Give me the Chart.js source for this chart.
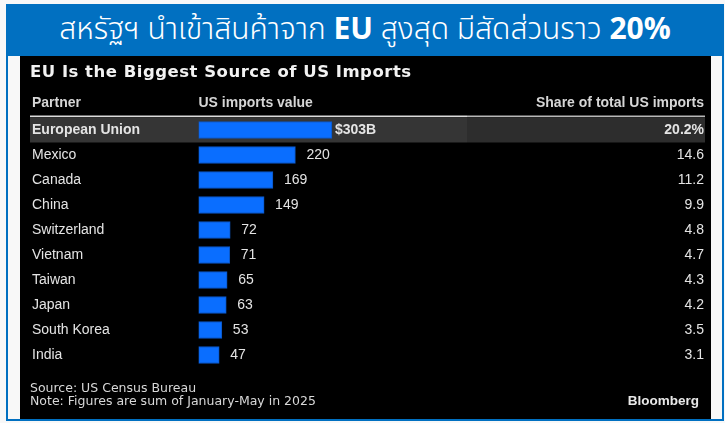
<!DOCTYPE html>
<html>
<head>
<meta charset="utf-8">
<script src="https://cdn.jsdelivr.net/npm/chart.js@4.4.1/dist/chart.umd.min.js"></script>
<style>
  html, body { margin: 0; padding: 0; background: #f8f8f8; }
  #page { position: relative; width: 725px; height: 423px; overflow: hidden; }
  #frame { position: absolute; left: 6px; top: 4px; width: 714px; height: 415px; border: 2px solid #0170c1; border-top: none; }
  #banner { position: absolute; left: 6px; top: 4px; width: 718px; height: 52px; background: #0170c1;
    color: #fff; font-family: "Noto Sans Thai", "Noto Sans", "DejaVu Sans", sans-serif; font-size: 30px; font-weight: 300;
    line-height: 52px; text-align: center; }
  #banner b { font-weight: bold; }
  #panel { position: absolute; left: 20px; top: 56px; width: 691px; height: 363px; background: #000; }
  #title { position: absolute; left: 10px; top: 6px; color: #f2f2f2; font-family: "DejaVu Sans", Verdana, sans-serif;
    font-weight: bold; font-size: 16.5px; letter-spacing: 0.5px; line-height: 20px; white-space: nowrap; }
  #chartBox { position: absolute; left: 0; top: 0; width: 691px; height: 363px; }
  #notes { position: absolute; left: 10px; top: 326px; color: #d8d8d8; font-family: "DejaVu Sans", Verdana, sans-serif;
    font-size: 12.5px; line-height: 12.5px; white-space: nowrap; }
  #brand { position: absolute; right: 12px; top: 337px; color: #e8e8e8; font-family: "Liberation Sans", Arial, sans-serif;
    font-weight: bold; font-size: 13.5px; line-height: 16px; }
</style>
</head>
<body>
<div id="page">
  <div id="frame"></div>
  <div id="banner">สหรัฐฯ นำเข้าสินค้าจาก <b>EU</b> สูงสุด มีสัดส่วนราว <b>20%</b></div>
  <div id="panel">
    <div id="chartBox"><canvas id="my-chart"></canvas></div>
    <div id="title">EU Is the Biggest Source of US Imports</div>
    <div id="notes">Source: US Census Bureau<br>Note: Figures are sum of January-May in 2025</div>
    <div id="brand">Bloomberg</div>
  </div>
</div>
<script>
// DATA
const partners = ['European Union', 'Mexico', 'Canada', 'China', 'Switzerland', 'Vietnam', 'Taiwan', 'Japan', 'South Korea', 'India'];
const importsValue = [303, 220, 169, 149, 72, 71, 65, 63, 53, 47];
const shareOfTotal = [20.2, 14.6, 11.2, 9.9, 4.8, 4.7, 4.3, 4.2, 3.5, 3.1];
const columnHeaders = ['Partner', 'US imports value', 'Share of total US imports'];

const FONT = '"Liberation Sans", Arial, sans-serif';

// HIGHLIGHT ROW, HEADER LINE AND COLUMN TITLES (UNDER THE BARS)
const tableBack = {
	id: 'tableBack',
	beforeDatasetsDraw(chart) {
		let ctx = chart.ctx;
		let y = chart.scales.y;
		let top = y.getPixelForValue(0) - 12.5;

		ctx.save();
		ctx.fillStyle = '#353535';
		ctx.fillRect(10, top, 437, 25);
		ctx.fillStyle = '#2d2d2d';
		ctx.fillRect(447, top, 238, 25);

		ctx.fillStyle = '#dcdcdc';
		ctx.fillRect(10, top - 2, 437, 1.6);
		ctx.fillStyle = '#b8b8b8';
		ctx.fillRect(447, top - 2, 238, 1.6);

		ctx.font = 'bold 14px ' + FONT;
		ctx.fillStyle = '#d6d6d6';
		ctx.textBaseline = 'middle';
		ctx.textAlign = 'left';
		ctx.fillText(columnHeaders[0], 12, 47);
		ctx.fillText(columnHeaders[1], chart.scales.x.getPixelForValue(0), 47);
		ctx.textAlign = 'right';
		ctx.fillText(columnHeaders[2], 684, 47);
		ctx.restore();
	}
};

// PARTNER NAMES, VALUE LABELS AND SHARE COLUMN
const tableText = {
	id: 'tableText',
	afterDatasetsDraw(chart) {
		let ctx = chart.ctx;
		let bars = chart.getDatasetMeta(0).data;

		ctx.save();
		ctx.textBaseline = 'middle';
		ctx.fillStyle = '#e4e4e4';
		for (let i = 0; i < partners.length; i++) {
			let yc = chart.scales.y.getPixelForValue(i) + 0.5;
			let isEU = i == 0;
			ctx.font = (isEU ? 'bold ' : '') + '14px ' + FONT;

			ctx.textAlign = 'left';
			ctx.fillText(partners[i], 12, yc);

			let label = isEU ? '$' + importsValue[i] + 'B' : String(importsValue[i]);
			ctx.fillText(label, bars[i].x + (isEU ? 3 : 11), yc);

			ctx.textAlign = 'right';
			let share = shareOfTotal[i].toFixed(1) + (isEU ? '%' : '');
			ctx.fillText(share, 684, yc);
		}
		ctx.restore();
	}
};

const ctx = document.getElementById('my-chart');
new Chart(ctx, {
	type: 'bar',
	data: {
		labels: partners,
		datasets: [{
			data: importsValue,
			backgroundColor: '#0a6eff',
			borderColor: '#0b56c4',
			borderWidth: 1,
			borderSkipped: false,
			barThickness: 17,
		}]
	},
	options: {
		indexAxis: 'y',
		responsive: true,
		maintainAspectRatio: false,
		animation: false,
		layout: {
			padding: { left: 178.5, right: 6, top: 61.5, bottom: 51.5 }
		},
		plugins: {
			legend: { display: false },
			tooltip: { enabled: false }
		},
		scales: {
			x: { display: false, min: 0, max: 1150 },
			y: { display: false }
		}
	},
	plugins: [tableBack, tableText]
});
</script>
</body>
</html>
